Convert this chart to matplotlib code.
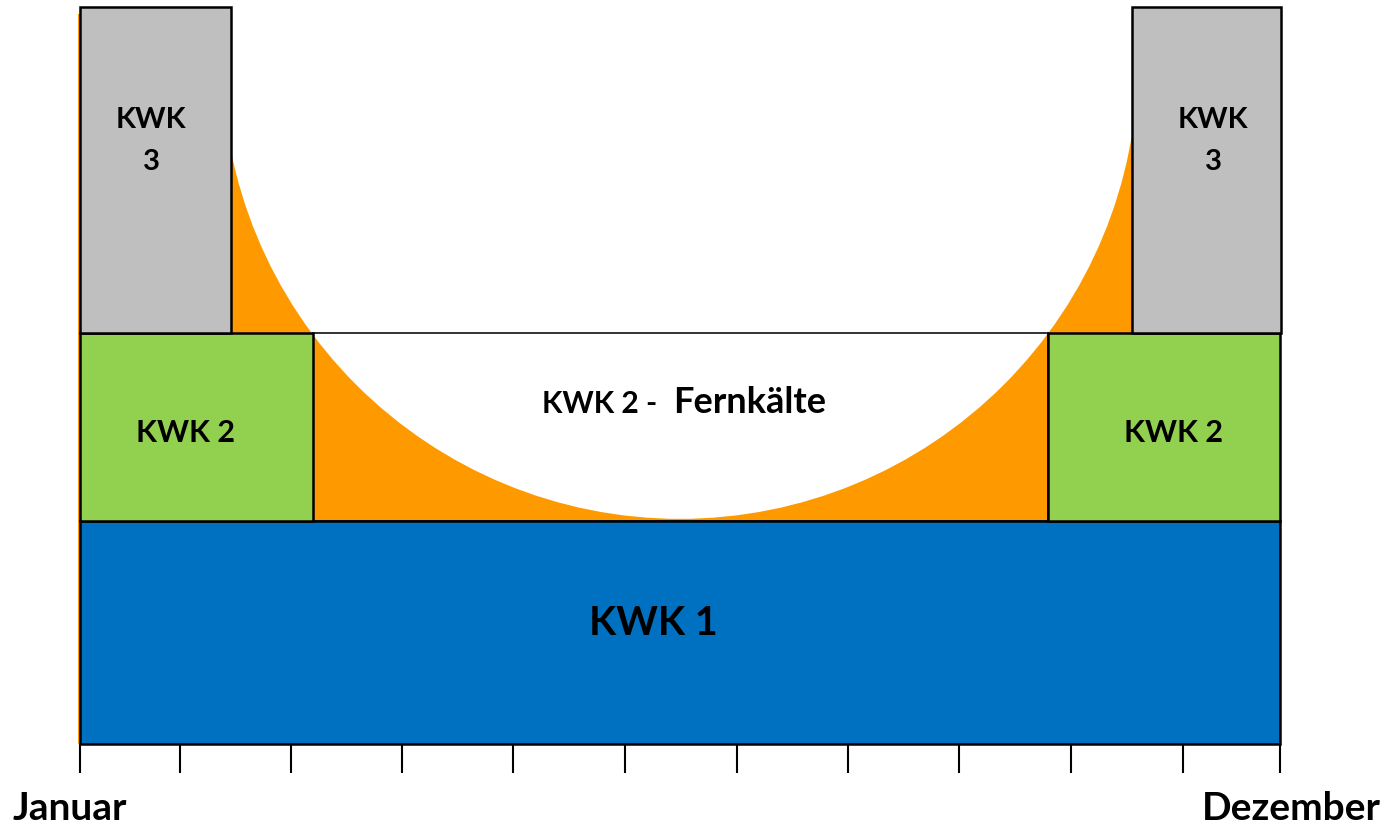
import matplotlib
matplotlib.use("Agg")
import matplotlib.pyplot as plt
from matplotlib.patches import Rectangle, Ellipse

# ---- data (x in month-axis units 0..12, y in % of max load 0..100) ----
tick_positions = [0, 1.0, 2.11, 3.22, 4.33, 5.45, 6.57, 7.68, 8.79, 9.91, 11.03, 12.0]
tick_labels = ["Januar", "", "", "", "", "", "", "", "", "", "", "Dezember"]

# blocks: (label, x0, x1, y0, y1, colour)
kwk1 = ("KWK 1", 0.0, 12.0, 0.0, 30.2, "#0070C0")
kwk2_left = ("KWK 2", 0.0, 2.33, 30.2, 55.8, "#92D050")
kwk2_right = ("KWK 2", 9.68, 12.0, 30.2, 55.8, "#92D050")
kwk3_left = ("KWK\n3", 0.0, 1.51, 55.8, 100.0, "#BFBFBF")
kwk3_right = ("KWK\n3", 10.52, 12.01, 55.8, 100.0, "#BFBFBF")
fernkaelte = ("KWK 2 - Fernkälte", 2.33, 9.68, 30.2, 55.8)

# heat demand area (orange) with the summer dip as circular cut-out
demand_x0, demand_x1, demand_top = -0.02, 12.01, 99.05
dip_center = (6.0, 92.7)
dip_width, dip_height = 9.16, 124.3

ORANGE = "#FF9900"
FONT = "Lato"

fig = plt.figure(figsize=(13.91, 8.28), dpi=100)
ax = fig.add_axes([80 / 1391, 83 / 828, 1200 / 1391, 737 / 828])
ax.set_xlim(0, 12)
ax.set_ylim(0, 100)
for s in ax.spines.values():
    s.set_visible(False)
ax.set_yticks([])

# orange demand area
ax.add_patch(Rectangle((demand_x0, 0), demand_x1 - demand_x0, demand_top,
                       facecolor=ORANGE, edgecolor="none", zorder=1, clip_on=False))
ax.add_patch(Ellipse(dip_center, dip_width, dip_height, facecolor="white",
                     edgecolor="none", zorder=2))

# Fernkälte box (no fill)
_, fx0, fx1, fy0, fy1 = fernkaelte
ax.add_patch(Rectangle((fx0, fy0), fx1 - fx0, fy1 - fy0, facecolor="none",
                       edgecolor="#222222", lw=1.3, zorder=3, clip_on=False))

for lab, x0, x1, y0, y1, col in [kwk1, kwk2_left, kwk2_right, kwk3_left, kwk3_right]:
    ax.add_patch(Rectangle((x0, y0), x1 - x0, y1 - y0, facecolor=col,
                           edgecolor="black", lw=1.8, zorder=4, clip_on=False))

# texts
tk = dict(fontfamily=FONT, fontweight="bold", color="black", zorder=6)
ax.text(5.73, 14.93, kwk1[0], ha="center", va="baseline", fontsize=28.5, **tk)
ax.text(1.05, 41.1, kwk2_left[0], ha="center", va="baseline", fontsize=22, **tk)
ax.text(10.94, 41.1, kwk2_right[0], ha="center", va="baseline", fontsize=22, **tk)
for xc, lab in [(0.71, kwk3_left[0]), (11.33, kwk3_right[0])]:
    l1, l2 = lab.split("\n")
    ax.text(xc, 83.7, l1, ha="center", va="baseline", fontsize=21, **tk)
    ax.text(xc, 78.0, l2, ha="center", va="baseline", fontsize=21, **tk)
a, b = fernkaelte[0].split(" - ")
ax.text(5.77, 45.05, a + " -", ha="right", va="baseline", fontsize=21.5, **tk)
ax.text(5.93, 45.05, b, ha="left", va="baseline", fontsize=26, **tk)

# x axis ticks
ax.set_xticks(tick_positions)
ax.set_xticklabels([""] * len(tick_positions))
ax.tick_params(axis="x", direction="out", length=21, width=1.5, color="black", pad=8)
label_offsets = {0: -0.10, len(tick_positions) - 1: 0.11}
for i, lab in enumerate(tick_labels):
    if lab:
        ax.text(tick_positions[i] + label_offsets.get(i, 0.0), -10.2, lab,
                ha="center", va="baseline", fontsize=28, clip_on=False, **tk)

fig.savefig("out.png", dpi=100)
